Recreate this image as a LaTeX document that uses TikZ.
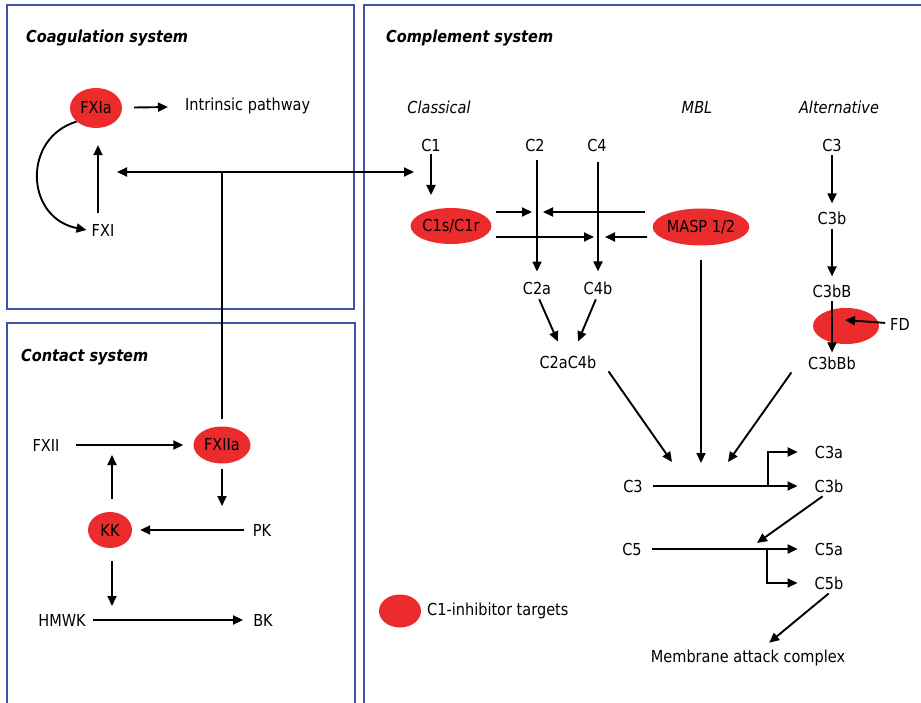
\documentclass[tikz,border=0pt]{standalone}
\usepackage{fontspec}
\setmainfont{DejaVu Sans}[FakeStretch=0.88]
\usepackage{tikz}
\usetikzlibrary{arrows.meta,shapes.geometric}

\definecolor{boxblue}{RGB}{66,82,166}
\definecolor{targetred}{RGB}{236,44,44}

\begin{document}
\begin{tikzpicture}[x=1pt, y=-1pt, >={Triangle[length=10pt,width=9pt]},
                    every node/.style={font=\fontsize{16.5}{19}\selectfont, inner sep=2pt},
                    every edge/.style={draw, line width=1.9pt},
                    target/.style={ellipse, fill=targetred, inner sep=0pt},
                    sysbox/.style={draw=boxblue, line width=1.5pt},
                    systitle/.style={anchor=west, font=\fontsize{16.5}{19}\selectfont\bfseries\itshape},
                    route/.style={font=\fontsize{16.5}{19}\selectfont\itshape}]

\useasboundingbox (0,0) rectangle (921,703);

% boxes
\draw[sysbox] (7,5) rectangle (354,309);
\draw[sysbox] (7,703) -- (7,323) -- (355,323) -- (355,703);
\draw[sysbox] (364,703) -- (364,5) -- (921,5);

\node[systitle] (coagT) at (24,38) {Coagulation system};
\node[systitle] (complT) at (384,38) {Complement system};
\node[systitle] (contT) at (19,357) {Contact system};

% coagulation
\node[target, minimum width=52pt, minimum height=40pt] (fxia) at (96,108) {FXIa};
\node[anchor=west] (intr) at (183,106) {Intrinsic pathway};
\node (fxi) at (103,230) {FXI};

% contact
\node (fxii) at (46,445) {FXII};
\node[target, minimum width=57pt, minimum height=37pt] (fxiia) at (222,445) {FXIIa};
\node (pk) at (262,530) {PK};
\node[target, minimum width=44pt, minimum height=36pt] (kk) at (110,530) {KK};
\node (hmwk) at (62,620) {HMWK};
\node (bk) at (263,620) {BK};

\coordinate (xl) at (117,172);
\coordinate (xr) at (414,172);
\coordinate (hub) at (222,172);
\coordinate (pkin) at (222,506);
\coordinate (fxiiin) at (112,455);
\coordinate (hmwkin) at (112,606);

% complement
\node[route] (classical) at (439,107) {Classical};
\node[route] (mbl) at (697,107) {MBL};
\node[route] (alt) at (839,107) {Alternative};

\node (c1) at (431,145) {C1};
\node[target, minimum width=67pt, minimum height=36pt] (c1s) at (451,226) {C1s/C1r};
\node (c2) at (535,145) {C2};
\node (c4) at (597,145) {C4};
\node[target, minimum width=84pt, minimum height=37pt] (masp) at (701,227) {MASP 1/2};
\node (c2a) at (537,288) {C2a};
\node (c4b) at (598,288) {C4b};
\node (c2ac4b) at (568,362) {C2aC4b};

\node (c3alt) at (832,145) {C3};
\node (c3balt) at (832,218) {C3b};
\node (c3bB) at (832,291) {C3bB};
\node[target, minimum width=66pt, minimum height=36pt] (fdt) at (846,326) {};
\node (fd) at (900,324) {FD};
\node (c3bBb) at (832,363) {C3bBb};

\node (c3) at (633,486) {C3};
\node (c3a) at (829,452) {C3a};
\node (c3b) at (829,486) {C3b};
\node (c5) at (632,549) {C5};
\node (c5a) at (829,549) {C5a};
\node (c5b) at (829,583) {C5b};
\node (mac) at (748,658) {Membrane attack complex};

\node[target, minimum width=42pt, minimum height=33pt] (legend) at (400,611) {};
\node[anchor=west] (legendT) at (425,611) {C1-inhibitor targets};

\coordinate (c1in) at (431,195);
\coordinate (j1) at (532,212);
\coordinate (j2) at (543,212);
\coordinate (j3) at (594,237);
\coordinate (j4) at (605,237);
\coordinate (in1) at (672,462);
\coordinate (in2) at (701,463);
\coordinate (in3) at (728,462);
\coordinate (br3) at (768,486);
\coordinate (in5) at (757,543);
\coordinate (br5) at (767,549);
\coordinate (fdin) at (845,320);

% coagulation arrows
\draw[->, line width=1.9pt] (fxia.215) .. controls (22,138) and (25,218) .. ([xshift=-3pt]fxi.west);
\path[->]
(fxia) edge [shorten <=12pt, shorten >=15pt] (intr)
([xshift=-5pt]fxi.north) edge [shorten <=9pt, shorten >=17pt] ([xshift=2pt]fxia.south)
(xl) edge [<->] (xr)
(fxiia.north) edge [-, shorten <=7pt] (hub);

% contact arrows
\path[->]
(fxii) edge [shorten <=14pt, shorten >=10pt] (fxiia)
(fxiia.south) edge [shorten <=5pt] (pkin)
(pk) edge [shorten <=7pt, shorten >=8pt] (kk)
([xshift=2pt]kk.north) edge [shorten <=13pt] (fxiiin)
([xshift=2pt]kk.south) edge [shorten <=13pt] (hmwkin)
(hmwk) edge [shorten <=5pt, shorten >=8pt] (bk);

% classical and MBL arrows
\path[->]
(c1) edge [shorten <=1pt] (c1in)
([xshift=2pt]c2.south) edge [shorten <=7pt, shorten >=8pt] (c2a.north)
([xshift=1pt]c4.south) edge [shorten <=9pt, shorten >=8pt] (c4b.north)
([xshift=4pt, yshift=14pt]c1s.east) edge (j1)
([xshift=4pt, yshift=-11pt]c1s.east) edge (j3)
([xshift=-7pt, yshift=15pt]masp.west) edge (j2)
([xshift=-5pt, yshift=-10pt]masp.west) edge (j4)
(masp.south) edge [shorten <=14pt] (in2)
([xshift=1pt]c2a.south) edge [shorten <=3pt, shorten >=13pt] ([xshift=-5pt]c2ac4b.north)
([xshift=-1pt]c4b.south) edge [shorten <=3pt, shorten >=13pt] ([xshift=5pt]c2ac4b.north)
([xshift=40pt]c2ac4b.south) edge [shorten <=1pt] (in1);

% alternative arrows
\path[->]
(c3alt) edge [shorten <=2pt, shorten >=6pt] (c3balt)
(c3balt) edge [shorten <=2pt, shorten >=6pt] (c3bB)
(c3bB) edge [shorten <=1pt, shorten >=2pt] (c3bBb)
(fd) edge [shorten <=3pt] (fdin)
([xshift=-40pt]c3bBb.south) edge [shorten <=1pt] (in3);

% terminal pathway
\path[->]
(c3) edge [shorten <=8pt, shorten >=15pt] (c3b)
(br3) edge [to path={|- (\tikztotarget) \tikztonodes}, shorten >=15pt] (c3a.west)
([xshift=-4pt]c3b.south) edge [shorten <=3pt] (in5)
(c5) edge [shorten <=8pt, shorten >=15pt] (c5a)
(br5) edge [to path={|- (\tikztotarget) \tikztonodes}, shorten >=15pt] (c5b.west)
([xshift=2pt]c5b.south) edge [shorten <=3pt, shorten >=8pt] ([xshift=15pt]mac.north);
\end{tikzpicture}
\end{document}
